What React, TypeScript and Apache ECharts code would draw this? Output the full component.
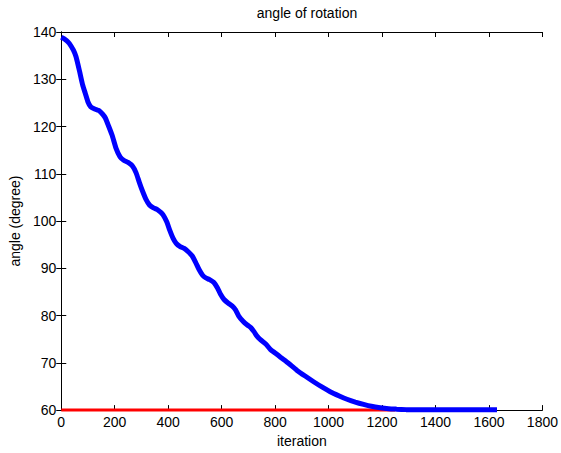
import React, { useEffect, useRef } from "react";
import * as echarts from "echarts";

const title = "angle of rotation";
const xName = "iteration";
const yName = "angle (degree)";

const blueIter = [0, 10, 20, 30, 45, 55, 68, 80, 90, 100, 110, 125, 140, 155, 165, 175, 190, 205, 220, 235, 250, 267, 280, 292, 305, 317, 330, 345, 360, 380, 395, 405, 418, 430, 445, 460, 475, 490, 503, 515, 528, 540, 555, 571, 585, 596, 609, 625, 640, 652, 664, 680, 696, 710, 721, 733, 745, 765, 783, 800, 820, 850, 882, 915, 944, 975, 1006, 1040, 1069, 1100, 1131, 1160, 1193, 1225, 1255, 1290, 1317, 1400, 1500, 1630];
const blueAngle = [138.9, 138.6, 138.2, 137.6, 136.2, 134.8, 131.8, 128.8, 127.0, 125.2, 124.2, 123.7, 123.4, 122.6, 121.8, 120.4, 118.2, 115.4, 113.6, 112.8, 112.4, 111.6, 110.2, 108.2, 106.2, 104.6, 103.4, 102.8, 102.4, 101.4, 99.8, 98.2, 96.4, 95.3, 94.6, 94.2, 93.5, 92.6, 91.2, 89.8, 88.6, 88.0, 87.6, 87.0, 85.8, 84.5, 83.4, 82.6, 82.0, 81.2, 79.9, 78.8, 78.0, 77.4, 76.6, 75.6, 74.9, 74.0, 72.8, 72.1, 71.2, 69.9, 68.4, 67.1, 66.0, 64.9, 63.9, 63.0, 62.3, 61.7, 61.2, 60.8, 60.5, 60.3, 60.2, 60.1, 60.05, 60.05, 60.05, 60.05];

const redIter = [0, 1250];
const redAngle = [60, 60];

const xTicks = { min: 0, max: 1800, interval: 200 };
const yTicks = { min: 60, max: 140, interval: 10 };

const FONT = "'Liberation Sans', Arial, sans-serif";

export default function App() {
  const ref = useRef<HTMLDivElement>(null);
  useEffect(() => {
    document.body.style.margin = "0";
    const chart = echarts.init(ref.current!, null, { renderer: "svg" });
    const axisLine = { show: true, lineStyle: { color: "#000", width: 1 } };
    const axisTick = { show: true, inside: true, length: 5, lineStyle: { color: "#000", width: 1 } };
    const label = { color: "#000", fontSize: 14, fontFamily: FONT };
    const plain = (v: number) => String(v);
    chart.setOption({
      animation: false,
      backgroundColor: "#fff",
      title: {
        text: title,
        left: 302,
        textAlign: "center",
        top: 1,
        textStyle: { color: "#000", fontSize: 14, fontWeight: "normal", fontFamily: FONT },
      },
      grid: { left: 60, right: 18, top: 32, bottom: 41 },
      xAxis: [
        {
          type: "value",
          position: "bottom",
          ...xTicks,
          axisLine,
          axisTick,
          axisLabel: { ...label, margin: 5, formatter: plain },
          splitLine: { show: false },
          name: xName,
          nameLocation: "middle",
          nameGap: 22,
          nameTextStyle: { ...label, verticalAlign: "top" },
        },
        {
          type: "value",
          position: "top",
          ...xTicks,
          axisLine,
          axisTick,
          axisLabel: { show: false },
          splitLine: { show: false },
        },
      ],
      yAxis: [
        {
          type: "value",
          position: "left",
          ...yTicks,
          axisLine,
          axisTick,
          axisLabel: { ...label, margin: 5, formatter: plain },
          splitLine: { show: false },
          name: yName,
          nameLocation: "middle",
          nameGap: 34,
          nameTextStyle: { ...label },
        },
        {
          type: "value",
          position: "right",
          ...yTicks,
          axisLine,
          axisTick,
          axisLabel: { show: false },
          splitLine: { show: false },
        },
      ],
      series: [
        {
          type: "line",
          xAxisIndex: 0,
          yAxisIndex: 0,
          data: redIter.map((x, i) => [x, redAngle[i]]),
          showSymbol: false,
          lineStyle: { color: "#ff0000", width: 3 },
          itemStyle: { color: "#ff0000" },
          clip: false,
          z: 2,
        },
        {
          type: "line",
          xAxisIndex: 0,
          yAxisIndex: 0,
          data: blueIter.map((x, i) => [x, blueAngle[i]]),
          showSymbol: false,
          smooth: 0.2,
          lineStyle: { color: "#0000ff", width: 5 },
          itemStyle: { color: "#0000ff" },
          clip: false,
          z: 3,
        },
      ],
    });
    return () => chart.dispose();
  }, []);
  return <div ref={ref} style={{ width: 561, height: 453 }} />;
}
